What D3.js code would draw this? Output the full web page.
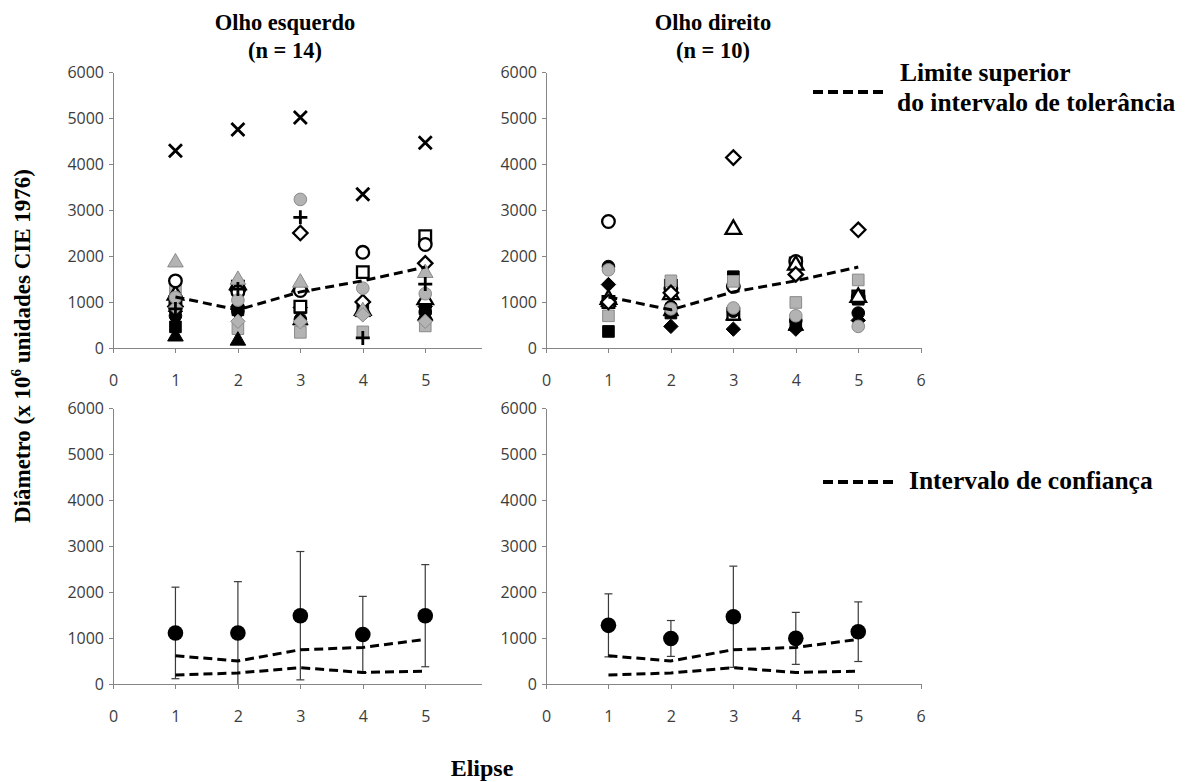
<!DOCTYPE html>
<html>
<head>
<meta charset="utf-8">
<script src="https://cdn.jsdelivr.net/npm/d3@7"></script>
<style>
  body { margin: 0; background: #fff; }
  svg { display: block; }
  .axis path, .axis line { stroke: #868686; stroke-width: 1; shape-rendering: crispEdges; }
  .axis text { font-family: "Open Sans", "Liberation Sans", sans-serif; font-size: 16px; fill: #3c3c3c; }
  .serif { font-family: "Liberation Serif", "Times New Roman", serif; font-weight: bold; fill: #000; }
</style>
</head>
<body>
<svg id="chart" width="1188" height="782"></svg>
<script>
// ---- Data -------------------------------------------------------------
const ellipses = [1, 2, 3, 4, 5];
const yTicks = [0, 1000, 2000, 3000, 4000, 5000, 6000];
const xTicksLeft = [0, 1, 2, 3, 4, 5];
const xTicksRight = [0, 1, 2, 3, 4, 5, 6];

// Upper limit of the tolerance interval (same for both eyes)
const toleranceUpper = [1110, 830, 1220, 1460, 1760];

// Confidence interval bounds (same for both eyes)
const ciUpper = [615, 500, 745, 795, 970];
const ciLower = [195, 240, 355, 250, 280];

// Left eye (n = 14), individual subjects per ellipse
const esqCruz        = [4290, 4750, 5010, 3340, 4460];
const esqMais        = [850, 1280, 2840, 220, 1390];
const esqCirculoAb   = [1460, 1220, 1250, 2080, 2250];
const esqQuadradoAb  = [1000, 1330, 900, 1650, 2430];
const esqLosangoAb   = [900, 1250, 2500, 1000, 1840];
const esqTrianguloAb = [1150, 1380, 1330, 820, 1050];
const esqCirculoCz   = [1100, 1040, 3230, 1300, 1180];
const esqTrianguloCz = [1860, 1480, 1420, 800, 1630];
const esqQuadradoCz  = [1290, 420, 340, 350, 480];
const esqLosangoCz   = [880, 580, 570, 720, 580];
const esqQuadradoPr  = [460, 830, 870, 820, 850];
const esqTrianguloPr = [250, 160, 600, 780, 700];
const esqCirculoPr   = [700, 800, 620, 760, 780];
const esqLosangoPr   = [800, 900, 880, 740, 900];

// Right eye (n = 10)
const dirCirculoAb   = [2750, 1300, 1340, 1880, 1100];
const dirLosangoAb   = [1000, 1200, 4140, 1600, 2570];
const dirTrianguloAb = [1060, 1160, 2580, 1800, 1100];
const dirQuadradoAb  = [1000, 1350, 740, 1840, 1120];
const dirCirculoCz   = [1700, 850, 870, 700, 470];
const dirQuadradoCz  = [700, 1460, 1450, 990, 1480];
const dirCirculoPr   = [1770, 900, 800, 600, 760];
const dirLosangoPr   = [1380, 470, 410, 410, 600];
const dirQuadradoPr  = [360, 760, 1550, 500, 1060];
const dirTrianguloPr = [1000, 800, 700, 480, 1100];

// Means and standard deviations
const esqMedia = [1110, 1110, 1485, 1075, 1485];
const esqDP    = [995, 1115, 1395, 830, 1110];
const dirMedia = [1275, 990, 1462, 992, 1137];
const dirDP    = [685, 390, 1100, 565, 648];

// ---- Series tables ----------------------------------------------------
const esqSeries = [
  { v: esqQuadradoCz, shape: "square", tone: "gray" },
  { v: esqTrianguloPr, shape: "triangle", tone: "black" },
  { v: esqQuadradoPr, shape: "square", tone: "black" },
  { v: esqLosangoPr, shape: "diamond", tone: "black" },
  { v: esqCirculoPr, shape: "circle", tone: "black" },
  { v: esqTrianguloAb, shape: "triangle", tone: "open" },
  { v: esqQuadradoAb, shape: "square", tone: "open" },
  { v: esqLosangoAb, shape: "diamond", tone: "open" },
  { v: esqCirculoAb, shape: "circle", tone: "open" },
  { v: esqTrianguloCz, shape: "triangle", tone: "gray" },
  { v: esqLosangoCz, shape: "diamond", tone: "gray" },
  { v: esqCirculoCz, shape: "circle", tone: "gray" },
  { v: esqMais, shape: "plus", tone: "black" },
  { v: esqCruz, shape: "x", tone: "black" }
];
const dirSeries = [
  { v: dirQuadradoPr, shape: "square", tone: "black" },
  { v: dirTrianguloPr, shape: "triangle", tone: "black" },
  { v: dirQuadradoAb, shape: "square", tone: "open" },
  { v: dirCirculoAb, shape: "circle", tone: "open" },
  { v: dirTrianguloAb, shape: "triangle", tone: "open" },
  { v: dirCirculoPr, shape: "circle", tone: "black" },
  { v: dirLosangoPr, shape: "diamond", tone: "black" },
  { v: dirQuadradoCz, shape: "square", tone: "gray" },
  { v: dirCirculoCz, shape: "circle", tone: "gray" },
  { v: dirLosangoAb, shape: "diamond", tone: "open" }
];

// ---- Layout -----------------------------------------------------------
const svg = d3.select("#chart");
const unit = 62.45;

function makePanel(x0, top, bottom, xMax, xTicks) {
  const x = d3.scaleLinear().domain([0, xMax]).range([x0, x0 + xMax * unit]);
  const y = d3.scaleLinear().domain([0, 6000]).range([bottom, top]);
  const g = svg.append("g");
  g.append("g").attr("class", "axis")
    .attr("transform", `translate(0,${bottom})`)
    .call(d3.axisBottom(x).tickValues(xTicks).tickSize(5).tickSizeOuter(0).tickPadding(22).tickFormat(d3.format("d")));
  g.append("g").attr("class", "axis")
    .attr("transform", `translate(${x0},0)`)
    .call(d3.axisLeft(y).tickValues(yTicks).tickSize(4).tickSizeOuter(0).tickPadding(5).tickFormat(d3.format("d")));
  return { x, y, g };
}

const pTL = makePanel(113, 72, 348, 5.9, xTicksLeft);
const pTR = makePanel(546, 72, 348, 6, xTicksRight);
const pBL = makePanel(113, 408, 684, 5.9, xTicksLeft);
const pBR = makePanel(546, 408, 684, 6, xTicksRight);

// ---- Markers ----------------------------------------------------------
const tones = {
  black: { fill: "#000", stroke: "#000", sw: 1 },
  gray:  { fill: "#b3b3b3", stroke: "#8a8a8a", sw: 1 },
  open:  { fill: "#fff", stroke: "#000", sw: 2.3 }
};
const symbolPath = {
  circle: d3.symbol(d3.symbolCircle, 125)(),
  square: d3.symbol(d3.symbolSquare, 135)(),
  triangle: d3.symbol(d3.symbolTriangle, 105)(),
  diamond: "M0,-7.2L7.2,0L0,7.2L-7.2,0Z",
  x: "M-6.5,-6.5L6.5,6.5M-6.5,6.5L6.5,-6.5",
  plus: "M-7,0L7,0M0,-7L0,7"
};

function drawScatter(p, series) {
  const layer = p.g.append("g");
  series.forEach(s => {
    const t = tones[s.tone];
    const isLine = s.shape === "x" || s.shape === "plus";
    layer.append("g").selectAll("path")
      .data(ellipses.map((e, i) => ({ e, v: s.v[i] })).filter(d => d.v != null))
      .join("path")
      .attr("d", symbolPath[s.shape])
      .attr("transform", d => `translate(${p.x(d.e)},${p.y(d.v)})`)
      .attr("fill", isLine ? "none" : t.fill)
      .attr("stroke", t.stroke)
      .attr("stroke-width", isLine ? 2.8 : t.sw);
  });
}

function drawDashed(p, values) {
  const line = d3.line().x((d, i) => p.x(ellipses[i])).y(d => p.y(d));
  p.g.append("path")
    .datum(values)
    .attr("d", line)
    .attr("fill", "none")
    .attr("stroke", "#000")
    .attr("stroke-width", 3)
    .attr("stroke-dasharray", "9,5");
}

function drawMeans(p, means, sds) {
  const data = ellipses.map((e, i) => ({ e, m: means[i], lo: Math.max(0, means[i] - sds[i]), hi: means[i] + sds[i] }));
  const eb = p.g.append("g").attr("stroke", "#3a3a3a").attr("stroke-width", 1.2);
  eb.selectAll("line.v").data(data).join("line").attr("class", "v")
    .attr("x1", d => p.x(d.e)).attr("x2", d => p.x(d.e))
    .attr("y1", d => p.y(d.lo)).attr("y2", d => p.y(d.hi));
  eb.selectAll("line.hi").data(data).join("line").attr("class", "hi")
    .attr("x1", d => p.x(d.e) - 4).attr("x2", d => p.x(d.e) + 4)
    .attr("y1", d => p.y(d.hi)).attr("y2", d => p.y(d.hi));
  eb.selectAll("line.lo").data(data.filter(d => d.lo > 0)).join("line").attr("class", "lo")
    .attr("x1", d => p.x(d.e) - 4).attr("x2", d => p.x(d.e) + 4)
    .attr("y1", d => p.y(d.lo)).attr("y2", d => p.y(d.lo));
  p.g.append("g").selectAll("circle").data(data).join("circle")
    .attr("cx", d => p.x(d.e)).attr("cy", d => p.y(d.m)).attr("r", 7.8).attr("fill", "#000");
}

drawScatter(pTL, esqSeries);
drawDashed(pTL, toleranceUpper);
drawScatter(pTR, dirSeries);
drawDashed(pTR, toleranceUpper);

drawMeans(pBL, esqMedia, esqDP);
drawDashed(pBL, ciUpper);
drawDashed(pBL, ciLower);
drawMeans(pBR, dirMedia, dirDP);
drawDashed(pBR, ciUpper);
drawDashed(pBR, ciLower);

// ---- Titles, legends, axis titles ------------------------------------
function serifText(x, y, str, size, anchor) {
  return svg.append("text").attr("class", "serif")
    .attr("x", x).attr("y", y)
    .attr("font-size", size)
    .attr("text-anchor", anchor || "middle")
    .text(str);
}
serifText(285, 30, "Olho esquerdo", 22.5);
serifText(285, 58, "(n = 14)", 22.5);
serifText(713, 30, "Olho direito", 22.5);
serifText(713, 58, "(n = 10)", 22.5);

svg.append("line").attr("x1", 813).attr("x2", 886).attr("y1", 92).attr("y2", 92)
  .attr("stroke", "#000").attr("stroke-width", 4).attr("stroke-dasharray", "10,5");
serifText(900, 81, "Limite superior", 25.5, "start");
serifText(897, 111, "do intervalo de tolerância", 25.5, "start");

svg.append("line").attr("x1", 823).attr("x2", 893).attr("y1", 482).attr("y2", 482)
  .attr("stroke", "#000").attr("stroke-width", 4).attr("stroke-dasharray", "10,5");
serifText(909, 489, "Intervalo de confiança", 25.5, "start");

serifText(482, 776, "Elipse", 24);

const yTitle = svg.append("text").attr("class", "serif")
  .attr("transform", "translate(30,346) rotate(-90)")
  .attr("text-anchor", "middle")
  .attr("font-size", 23);
yTitle.append("tspan").text("Diâmetro (x 10");
yTitle.append("tspan").attr("font-size", 15).attr("dy", -9).text("6");
yTitle.append("tspan").attr("dy", 9).text(" unidades CIE 1976)");
</script>
</body>
</html>
